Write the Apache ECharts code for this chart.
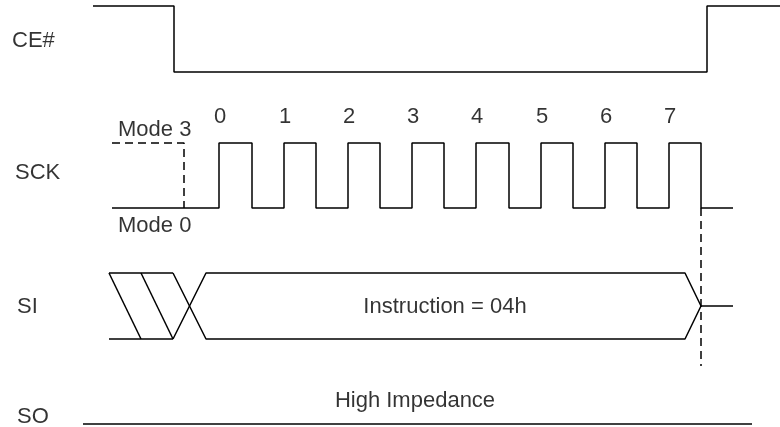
<!DOCTYPE html>
<html>
<head>
<meta charset="utf-8">
<script src="https://cdn.jsdelivr.net/npm/echarts@6/dist/echarts.min.js"></script>
<style>html,body{margin:0;padding:0;background:#fff}#c{width:780px;height:427px}</style>
</head>
<body>
<div id="c"></div>
<script>
// ---- data ----
const signalNames = ['CE#', 'SCK', 'SI', 'SO'];
const clockLabels = ['0', '1', '2', '3', '4', '5', '6', '7'];
const sckRise = [219, 284, 348, 412, 476, 541, 605, 669];
const sckFall = [252, 316, 380, 444, 509, 573, 637, 701];
const ceTimes = [93, 174, 707, 780];          // start, fall, rise, end
const sckTimes = [112, 184, 733];             // start, mode-3 end, end
const siTimes = [109, 141, 173, 206, 685, 701, 733]; // bus transitions
const soTimes = [83, 752];
const modeLabels = ['Mode 3', 'Mode 0'];
const busText = 'Instruction = 04h';
const soText = 'High Impedance';
// signal levels (vertical units)
const ceLevel = [6, 72];
const sckLevel = [143, 208];
const siLevel = [273, 306, 339];
const soLevel = 424;
const dashEnd = 366;

// ---- build ----
const FONT = 'Liberation Sans, Arial, sans-serif';
const series = [];
function seg(points, dashed) {
  series.push({
    type: 'line', data: points, symbol: 'none', silent: true, animation: false,
    lineStyle: { color: '#000', width: 1.5, type: dashed ? [8, 5] : 'solid' }
  });
}
// CE#
seg([[ceTimes[0], ceLevel[0]], [ceTimes[1], ceLevel[0]], [ceTimes[1], ceLevel[1]],
     [ceTimes[2], ceLevel[1]], [ceTimes[2], ceLevel[0]], [ceTimes[3], ceLevel[0]]]);
// SCK
const sck = [[sckTimes[0], sckLevel[1]]];
sckRise.forEach((r, i) => {
  sck.push([r, sckLevel[1]], [r, sckLevel[0]], [sckFall[i], sckLevel[0]], [sckFall[i], sckLevel[1]]);
});
sck.push([sckTimes[2], sckLevel[1]]);
seg(sck);
// Mode 3 dashed
seg([[sckTimes[0], sckLevel[0]], [sckTimes[1], sckLevel[0]], [sckTimes[1], sckLevel[1]]], true);
// end dashed marker
seg([[sckFall[7], sckLevel[1]], [sckFall[7], dashEnd]], true);
// SI
seg([[siTimes[0], siLevel[0]], [siTimes[2], siLevel[0]]]);
seg([[siTimes[0], siLevel[2]], [siTimes[2], siLevel[2]]]);
seg([[siTimes[0], siLevel[0]], [siTimes[1], siLevel[2]]]);
seg([[siTimes[1], siLevel[0]], [siTimes[2], siLevel[2]]]);
seg([[siTimes[2], siLevel[0]], [siTimes[3], siLevel[2]], [siTimes[4], siLevel[2]], [siTimes[5], siLevel[1]], [siTimes[6], siLevel[1]]]);
seg([[siTimes[2], siLevel[2]], [siTimes[3], siLevel[0]], [siTimes[4], siLevel[0]], [siTimes[5], siLevel[1]]]);
// SO
seg([[soTimes[0], soLevel], [soTimes[1], soLevel]]);

// texts
function texts(items, align, size) {
  series.push({
    type: 'scatter', symbolSize: 1, silent: true, animation: false,
    itemStyle: { color: 'rgba(0,0,0,0)' },
    data: items.map(t => ({ name: t[2], value: [t[0], t[1]] })),
    label: { show: true, position: 'inside', formatter: '{b}', color: '#000',
             fontFamily: FONT, fontSize: size, align: align, verticalAlign: 'middle' }
  });
}
const labelX = [12, 15, 17, 17];
const labelY = [41, 173, 307, 417];
texts(signalNames.map((n, i) => [labelX[i], labelY[i], n]), 'left', 22);
texts(clockLabels.map((n, i) => [sckRise[i] + 1, 117, n]), 'center', 22);
texts([[118, 130, modeLabels[0]], [118, 226, modeLabels[1]]], 'left', 22);
texts([[445, siLevel[1] + 1, busText]], 'center', 22);
texts([[415, 401, soText]], 'center', 22);

const chart = echarts.init(document.getElementById('c'), null, { renderer: 'canvas' });
chart.setOption({
  animation: false,
  grid: { left: 0, right: 0, top: 0, bottom: 0 },
  xAxis: { type: 'value', min: 0, max: 780, show: false },
  yAxis: { type: 'value', min: 0, max: 427, inverse: true, show: false },
  series: series
});
</script>
</body>
</html>
